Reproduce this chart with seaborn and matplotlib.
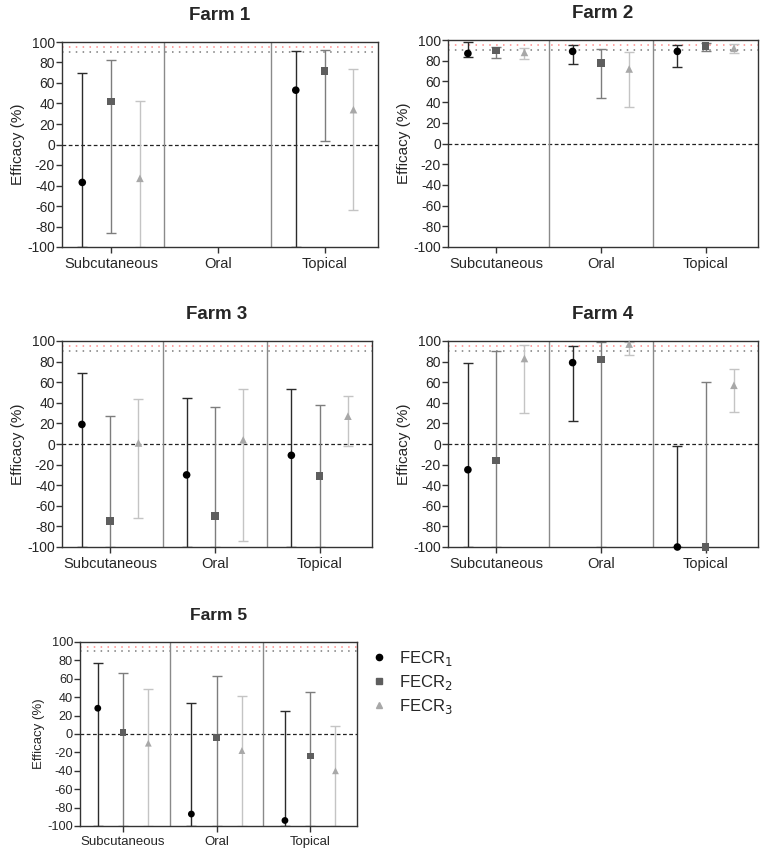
import numpy as np
import pandas as pd
import matplotlib
matplotlib.use("Agg")
import matplotlib.pyplot as plt
from matplotlib.lines import Line2D
import seaborn as sns

sns.set_theme(style="ticks")
plt.rcParams['font.family'] = ['Liberation Sans', 'DejaVu Sans']
plt.rcParams['axes.unicode_minus'] = False

nan = np.nan
routes = ["Subcutaneous", "Oral", "Topical"]
series = ["FECR$_1$", "FECR$_2$", "FECR$_3$"]
farms = ["Farm 1", "Farm 2", "Farm 3", "Farm 4", "Farm 5"]

# rows = route (Subcutaneous, Oral, Topical), cols = FECR1..FECR3
farm1_mean = [[-37, 42, -33], [nan, nan, nan], [53, 72, 34]]
farm1_low = [[-100, -86, -100], [nan, nan, nan], [-100, 3, -64]]
farm1_high = [[70, 82, 42], [nan, nan, nan], [91, 92, 74]]

farm2_mean = [[87, 90, 88], [89, 78, 72], [89, 94, 92]]
farm2_low = [[84, 83, 82], [77, 44, 35], [74, 89, 87]]
farm2_high = [[98, 93, 92], [95, 91, 88], [95, 97, 96]]

farm3_mean = [[19, -75, 1], [-30, -70, 4], [-11, -31, 27]]
farm3_low = [[-100, -100, -72], [-100, -100, -94], [-100, -100, -2]]
farm3_high = [[69, 27, 44], [45, 36, 53], [53, 38, 47]]

farm4_mean = [[-25, -16, 83], [79, 82, 97], [-100, -100, 57]]
farm4_low = [[-100, -100, 30], [22, -100, 86], [-100, -105, 31]]
farm4_high = [[79, 90, 96], [95, 99, 99], [-2, 60, 73]]

farm5_mean = [[28, 2, -10], [-87, -4, -18], [-94, -24, -40]]
farm5_low = [[-100, -100, -100], [-100, -100, -100], [-100, -100, -100]]
farm5_high = [[77, 66, 49], [34, 63, 41], [25, 46, 9]]

means = [farm1_mean, farm2_mean, farm3_mean, farm4_mean, farm5_mean]
lows = [farm1_low, farm2_low, farm3_low, farm4_low, farm5_low]
highs = [farm1_high, farm2_high, farm3_high, farm4_high, farm5_high]

offsets = [-0.27, 0.0, 0.27]
rows = []
for f, farm in enumerate(farms):
    for r, route in enumerate(routes):
        for s, ser in enumerate(series):
            rows.append({"farm": farm, "route": route, "series": ser,
                         "x": r + offsets[s],
                         "mean": means[f][r][s], "low": lows[f][r][s], "high": highs[f][r][s]})
df = pd.DataFrame(rows)

marker_colors = ["#000000", "#5e5e5e", "#a8a8a8"]
bar_colors = ["#2b2b2b", "#7d7d7d", "#c4c4c4"]
markers = {series[0]: "o", series[1]: "s", series[2]: "^"}
palette = dict(zip(series, marker_colors))

W, H = 760, 850
fig = plt.figure(figsize=(7.6, 8.5), dpi=100)

# pixel boxes: left, top, right, bottom
boxes = [(62, 42, 378, 247), (448, 40, 758, 247),
         (62, 341, 372, 547), (448, 341, 758, 547),
         (80, 642, 357, 826)]

for f, farm in enumerate(farms):
    l, t, r, b = boxes[f]
    ax = fig.add_axes([l / W, 1 - b / H, (r - l) / W, (b - t) / H])
    small = f == 4
    fs_x = 9.5 if small else 10.5
    fs_y = 9.2 if small else 10

    ax.axhline(95, color="#ff8a8a", ls=(0, (1, 3.5)), lw=1.1, zorder=1)
    ax.axhline(90, color="#7a7a7a", ls=(0, (1, 3.5)), lw=1.1, zorder=1)
    ax.axhline(0, color="#222222", ls=(0, (3, 2)), lw=0.9, zorder=1)
    for xv in [0.5, 1.5]:
        ax.axvline(xv, color="#8a8a8a", lw=1.0, zorder=1)

    sub = df[df["farm"] == farm].dropna()
    for s, ser in enumerate(series):
        d = sub[sub["series"] == ser]
        if d.empty:
            continue
        ax.errorbar(d["x"], d["mean"],
                    yerr=[d["mean"] - d["low"], d["high"] - d["mean"]],
                    fmt="none", ecolor=bar_colors[s], elinewidth=1.0,
                    capsize=3.5, capthick=1.0, zorder=2)

    sns.scatterplot(data=sub, x="x", y="mean", hue="series", style="series",
                    markers=markers, palette=palette, hue_order=series,
                    s=30 if not small else 24, linewidth=0, legend=False,
                    ax=ax, zorder=3, clip_on=False)

    ax.set_xlim(-0.46, 2.5)
    ax.set_ylim(-100, 100)
    ax.set_yticks(np.arange(-100, 101, 20))
    ax.set_xticks([0, 1, 2])
    ax.set_xticklabels(routes, fontsize=fs_x)
    ax.tick_params(axis="y", labelsize=fs_y, length=4, width=1, color="#333333", pad=1)
    ax.tick_params(axis="x", length=4, width=1, color="#333333", pad=3)
    ax.set_xlabel("")
    ax.set_ylabel("Efficacy (%)", fontsize=fs_x if small else 11, labelpad=2)
    ax.set_title(farm, fontsize=12.5 if small else 13.5, fontweight="bold", pad=16)
    for sp in ax.spines.values():
        sp.set_visible(True)
        sp.set_color("#333333")
        sp.set_linewidth(1.0)

handles = [Line2D([], [], ls="none", marker=markers[ser], color=marker_colors[i],
                  markersize=4.5 if i == 0 else 4)
           for i, ser in enumerate(series)]
fig.legend(handles, series, loc="upper left", bbox_to_anchor=(356 / W, 1 - 634 / H),
           frameon=False, fontsize=12, handletextpad=0.7, labelspacing=0.3,
           handlelength=1.0)

fig.savefig("out.png", dpi=100)
